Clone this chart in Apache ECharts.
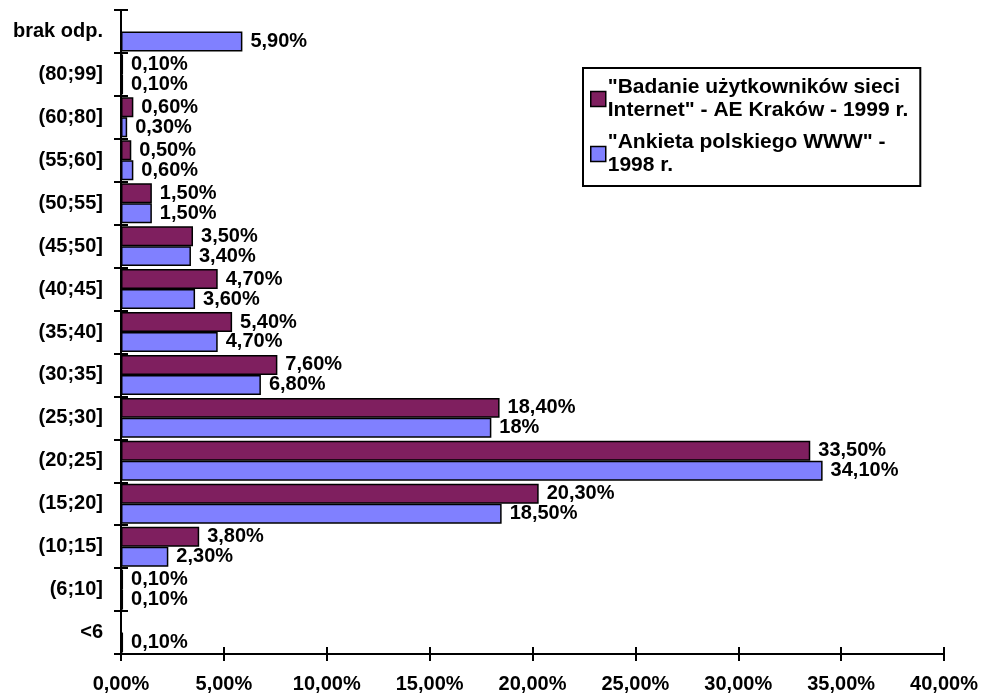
<!DOCTYPE html>
<html>
<head>
<meta charset="utf-8">
<script src="https://cdn.jsdelivr.net/npm/echarts@6/dist/echarts.min.js"></script>
<style>
html,body{margin:0;padding:0;background:#fff;}
#c{width:982px;height:697px;}
</style>
</head>
<body>
<div id="c"></div>
<script>
// categories, bottom to top
const categories = ['<6','(6;10]','(10;15]','(15;20]','(20;25]','(25;30]','(30;35]','(35;40]','(40;45]','(45;50]','(50;55]','(55;60]','(60;80]','(80;99]','brak odp.'];
// "Badanie użytkowników sieci Internet" - AE Kraków - 1999 r.
const series1999 = [null,0.1,3.8,20.3,33.5,18.4,7.6,5.4,4.7,3.5,1.5,0.5,0.6,0.1,null];
// "Ankieta polskiego WWW" - 1998 r.
const series1998 = [0.1,0.1,2.3,18.5,34.1,18,6.8,4.7,3.6,3.4,1.5,0.6,0.3,0.1,5.9];
// value label texts as printed
const labels1999 = ['','0,10%','3,80%','20,30%','33,50%','18,40%','7,60%','5,40%','4,70%','3,50%','1,50%','0,50%','0,60%','0,10%',''];
const labels1998 = ['0,10%','0,10%','2,30%','18,50%','34,10%','18%','6,80%','4,70%','3,60%','3,40%','1,50%','0,60%','0,30%','0,10%','5,90%'];
const xTicks = [0,5,10,15,20,25,30,35,40];

const name1999 = '"Badanie użytkowników sieci\nInternet" - AE Kraków - 1999 r.';
const name1998 = '"Ankieta polskiego WWW" -\n1998 r.';

const FONT = "'Liberation Sans', Arial, sans-serif";
const fs = 20;

const chart = echarts.init(document.getElementById('c'), null, {renderer:'canvas'});
const axisLine = {show:true, lineStyle:{color:'#000', width:2}};
const option = {
  animation:false,
  backgroundColor:'#fff',
  textStyle:{fontFamily:FONT},
  grid:{left:121, right:38, top:10, bottom:43, containLabel:false},
  legend:{
    orient:'vertical',
    left:583, top:68,
    data:[name1999, name1998],
    itemWidth:15, itemHeight:15, itemGap:9,
    padding:[8,12,9,7],
    borderColor:'#000', borderWidth:2,
    backgroundColor:'#fff',
    icon:'rect',
    itemStyle:{borderColor:'#000', borderWidth:1.5},
    textStyle:{fontFamily:FONT, fontWeight:'bold', fontSize:21, color:'#000', lineHeight:23, padding:[0,0,0,-3]},
    selectedMode:false
  },
  xAxis:[{
    type:'value', min:xTicks[0], max:xTicks[xTicks.length-1], interval:5,
    axisLine:axisLine,
    axisTick:{show:true, length:7, lineStyle:{color:'#000', width:2}},
    splitLine:{show:false},
    axisLabel:{fontFamily:FONT, fontWeight:'bold', fontSize:fs, color:'#000', margin:20,
      formatter:v => v.toFixed(2).replace('.',',') + '%'}
  },{
    type:'value', min:xTicks[0], max:xTicks[xTicks.length-1], interval:5, position:'bottom',
    axisLine:{show:false},
    axisTick:{show:true, inside:true, length:7, lineStyle:{color:'#000', width:2}},
    splitLine:{show:false}, axisLabel:{show:false}
  }],
  yAxis:[{
    type:'category', data:categories,
    axisLine:axisLine,
    axisTick:{show:true, length:7, lineStyle:{color:'#000', width:2}},
    axisLabel:{fontFamily:FONT, fontWeight:'bold', fontSize:fs, color:'#000', margin:18}
  },{
    type:'category', data:categories, position:'left',
    axisLine:{show:false},
    axisTick:{show:true, inside:true, length:7, lineStyle:{color:'#000', width:2}},
    axisLabel:{show:false}
  }],
  series:[{
    name:name1999, type:'bar', data:series1999,
    barGap:'0%', barCategoryGap:'7%',
    itemStyle:{color:'#7f1f5f', borderColor:'#000', borderWidth:1.5},
    label:{show:true, position:'right', distance:8, fontFamily:FONT, fontWeight:'bold', fontSize:fs, color:'#000',
      formatter:p => labels1999[p.dataIndex]}
  },{
    name:name1998, type:'bar', data:series1998,
    barGap:'0%', barCategoryGap:'7%',
    itemStyle:{color:'#8080ff', borderColor:'#000', borderWidth:1.5},
    label:{show:true, position:'right', distance:8, fontFamily:FONT, fontWeight:'bold', fontSize:fs, color:'#000',
      formatter:p => labels1998[p.dataIndex]}
  }]
};
chart.setOption(option);
</script>
</body>
</html>
